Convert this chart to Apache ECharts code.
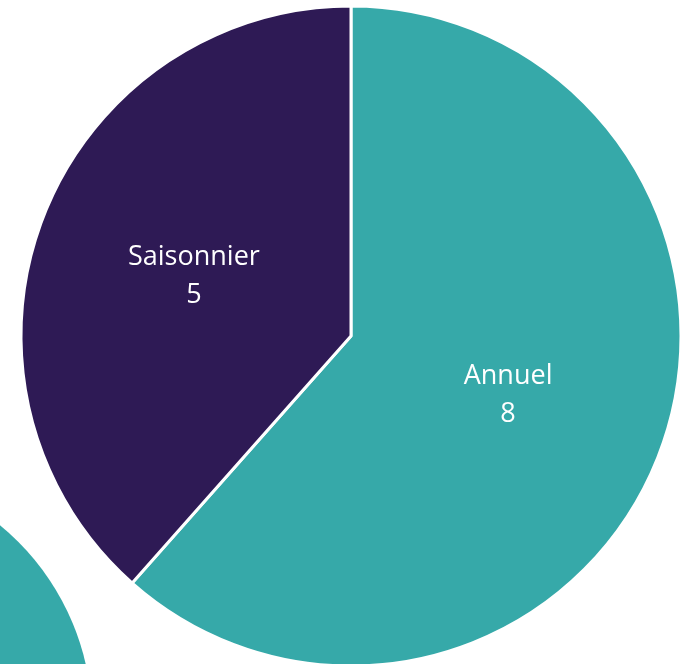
<!DOCTYPE html>
<html><head><meta charset="utf-8">
<script src="https://cdn.jsdelivr.net/npm/echarts@6/dist/echarts.min.js"></script>
<style>html,body{margin:0;padding:0;background:#fff}#c{width:687px;height:664px}</style>
</head><body><div id="c"></div>
<script>
const categories = ['Annuel', 'Saisonnier'];
const values = [8, 5];
const colors = ['#36A9A9', '#2E1A55'];
const neighborValues = [1];

const chart = echarts.init(document.getElementById('c'), null, {renderer: 'canvas'});
chart.setOption({
  animation: false,
  series: [
    {
      type: 'pie',
      center: [-160, 720],
      radius: 252,
      silent: true,
      label: {show: false},
      labelLine: {show: false},
      itemStyle: {color: colors[0]},
      data: neighborValues.map(v => ({value: v, name: ''}))
    },
    {
      type: 'pie',
      center: [351, 336],
      radius: 330,
      startAngle: 90,
      clockwise: true,
      itemStyle: {borderColor: '#fff', borderWidth: 3},
      label: {
        show: true,
        position: 'inside',
        formatter: '{b}\n{c}',
        color: '#fff',
        fontFamily: 'Open Sans',
        fontSize: 27,
        lineHeight: 38
      },
      labelLine: {show: false},
      data: categories.map((n, i) => ({name: n, value: values[i], itemStyle: {color: colors[i]}}))
    }
  ]
});
</script></body></html>
